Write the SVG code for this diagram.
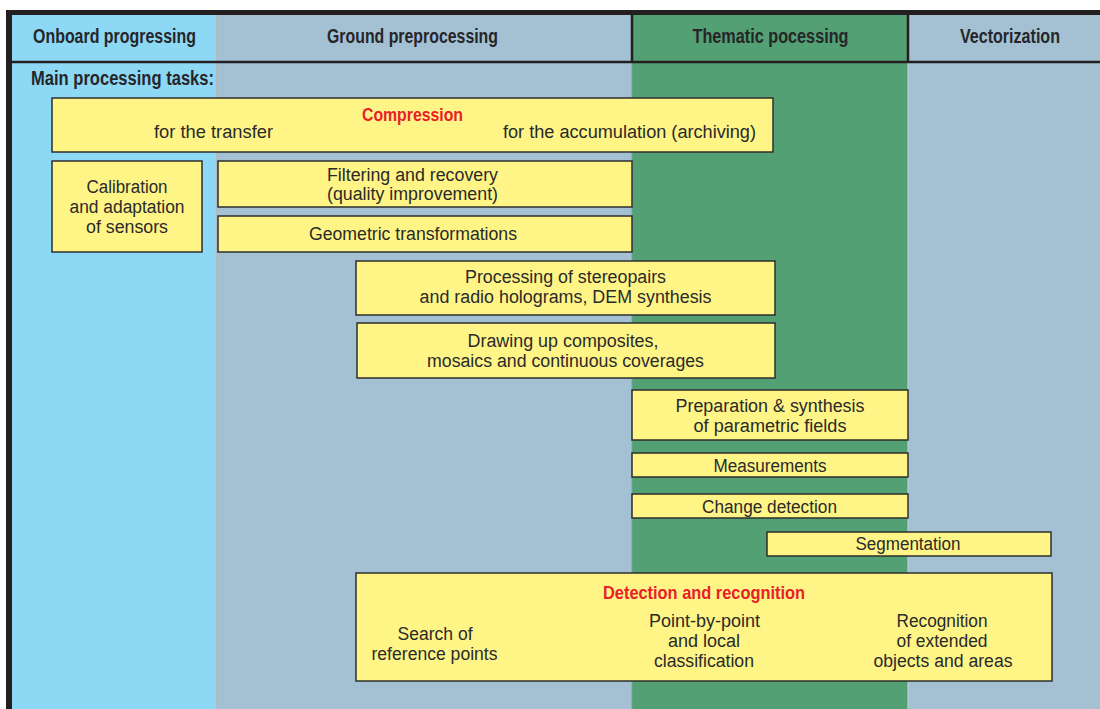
<svg xmlns="http://www.w3.org/2000/svg" width="1100" height="709" viewBox="0 0 1100 709">
  <style>
    .hd { font-family: "Liberation Sans", Arial, sans-serif; font-weight: bold; font-size: 20px; fill: #26262a; text-anchor: middle; }
    .tx { font-family: "Liberation Sans", Arial, sans-serif; font-size: 18.8px; fill: #2a2a2a; text-anchor: middle; }
    .rd { font-family: "Liberation Sans", Arial, sans-serif; font-weight: bold; font-size: 19px; fill: #e8202a; text-anchor: middle; }
    .box { fill: #fff587; stroke: #2e2e2e; stroke-width: 1.5; }
    .rule { stroke: #231f20; fill: none; }
  </style>

  <!-- column backgrounds -->
  <g id="columns">
    <rect x="0" y="0" width="1100" height="709" fill="#ffffff"/>
    <rect x="12" y="14" width="204.5" height="695" fill="#8dd8f5"/>
    <rect x="216.5" y="14" width="415.5" height="695" fill="#a3c1d3"/>
    <rect x="632" y="14" width="276" height="695" fill="#52a073"/>
    <rect x="908" y="14" width="192" height="695" fill="#a3c1d3"/>
    <line x1="216.5" y1="14" x2="216.5" y2="709" stroke="#b4b8bc" stroke-width="1.2"/>
    <line x1="632" y1="62" x2="632" y2="709" stroke="#6aa8a0" stroke-width="1"/>
    <line x1="908" y1="62" x2="908" y2="709" stroke="#c6d8d6" stroke-width="1"/>
  </g>

  <!-- frame and header rules -->
  <g id="frame">
    <line class="rule" x1="6" y1="12.5" x2="1100" y2="12.5" stroke-width="5"/>
    <line class="rule" x1="9" y1="10" x2="9" y2="709" stroke-width="6"/>
    <line class="rule" x1="12" y1="62" x2="1100" y2="62" stroke-width="2.5"/>
    <line class="rule" x1="632" y1="14" x2="632" y2="62" stroke-width="2.5"/>
    <line class="rule" x1="908" y1="14" x2="908" y2="62" stroke-width="2.5"/>
  </g>

  <!-- column headings -->
  <g id="headings">
    <text class="hd" x="114.5" y="43" textLength="163" lengthAdjust="spacingAndGlyphs">Onboard progressing</text>
    <text class="hd" x="412.5" y="43" textLength="171" lengthAdjust="spacingAndGlyphs">Ground preprocessing</text>
    <text class="hd" x="770.5" y="43" textLength="156" lengthAdjust="spacingAndGlyphs">Thematic pocessing</text>
    <text class="hd" x="1010" y="43" textLength="100" lengthAdjust="spacingAndGlyphs">Vectorization</text>
    <text class="hd" x="122.5" y="85" textLength="183" lengthAdjust="spacingAndGlyphs">Main processing tasks:</text>
  </g>

  <!-- task boxes -->
  <g id="compression">
    <rect class="box" x="52" y="98" width="721" height="54"/>
    <text class="rd" x="412.5" y="121" textLength="101" lengthAdjust="spacingAndGlyphs">Compression</text>
    <text class="tx" x="213.5" y="138" textLength="119" lengthAdjust="spacingAndGlyphs">for the transfer</text>
    <text class="tx" x="629.5" y="138" textLength="253" lengthAdjust="spacingAndGlyphs">for the accumulation (archiving)</text>
  </g>

  <g id="calibration">
    <rect class="box" x="52" y="161" width="150" height="91"/>
    <text class="tx" x="127" y="192.5" textLength="81" lengthAdjust="spacingAndGlyphs">Calibration</text>
    <text class="tx" x="127" y="212.5" textLength="115" lengthAdjust="spacingAndGlyphs">and adaptation</text>
    <text class="tx" x="127" y="232.5" textLength="82" lengthAdjust="spacingAndGlyphs">of sensors</text>
  </g>

  <g id="filtering">
    <rect class="box" x="218" y="161" width="414" height="46"/>
    <text class="tx" x="412.5" y="181" textLength="171" lengthAdjust="spacingAndGlyphs">Filtering and recovery</text>
    <text class="tx" x="412.5" y="200" textLength="171" lengthAdjust="spacingAndGlyphs">(quality improvement)</text>
  </g>

  <g id="geometric">
    <rect class="box" x="218" y="216" width="414" height="36"/>
    <text class="tx" x="413" y="240" textLength="208" lengthAdjust="spacingAndGlyphs">Geometric transformations</text>
  </g>

  <g id="stereopairs">
    <rect class="box" x="356" y="261" width="419" height="54"/>
    <text class="tx" x="565.5" y="283" textLength="201" lengthAdjust="spacingAndGlyphs">Processing of stereopairs</text>
    <text class="tx" x="565.5" y="303" textLength="292" lengthAdjust="spacingAndGlyphs">and radio holograms, DEM synthesis</text>
  </g>

  <g id="composites">
    <rect class="box" x="357" y="323" width="418" height="55"/>
    <text class="tx" x="563" y="347" textLength="191" lengthAdjust="spacingAndGlyphs">Drawing up composites,</text>
    <text class="tx" x="565.5" y="367" textLength="277" lengthAdjust="spacingAndGlyphs">mosaics and continuous coverages</text>
  </g>

  <g id="parametric">
    <rect class="box" x="632" y="390" width="276" height="50"/>
    <text class="tx" x="770" y="412" textLength="189" lengthAdjust="spacingAndGlyphs">Preparation &amp; synthesis</text>
    <text class="tx" x="770" y="432" textLength="153" lengthAdjust="spacingAndGlyphs">of parametric fields</text>
  </g>

  <g id="measurements">
    <rect class="box" x="632" y="453" width="276" height="24"/>
    <text class="tx" x="770" y="471.5" textLength="113" lengthAdjust="spacingAndGlyphs">Measurements</text>
  </g>

  <g id="change">
    <rect class="box" x="632" y="494" width="276" height="24"/>
    <text class="tx" x="769.5" y="512.5" textLength="135" lengthAdjust="spacingAndGlyphs">Change detection</text>
  </g>

  <g id="segmentation">
    <rect class="box" x="767" y="532" width="284" height="24"/>
    <text class="tx" x="908" y="549.5" textLength="105" lengthAdjust="spacingAndGlyphs">Segmentation</text>
  </g>

  <g id="detection">
    <rect class="box" x="356" y="573" width="696" height="108"/>
    <text class="rd" x="704" y="599" textLength="202" lengthAdjust="spacingAndGlyphs">Detection and recognition</text>
    <text class="tx" x="435" y="640" textLength="75" lengthAdjust="spacingAndGlyphs">Search of</text>
    <text class="tx" x="434.5" y="660" textLength="126" lengthAdjust="spacingAndGlyphs">reference points</text>
    <text class="tx" x="704.5" y="626.5" textLength="111" lengthAdjust="spacingAndGlyphs">Point-by-point</text>
    <text class="tx" x="704" y="646.5" textLength="72" lengthAdjust="spacingAndGlyphs">and local</text>
    <text class="tx" x="704" y="666.5" textLength="100" lengthAdjust="spacingAndGlyphs">classification</text>
    <text class="tx" x="942" y="626.5" textLength="91" lengthAdjust="spacingAndGlyphs">Recognition</text>
    <text class="tx" x="942" y="646.5" textLength="91" lengthAdjust="spacingAndGlyphs">of extended</text>
    <text class="tx" x="943" y="666.5" textLength="139" lengthAdjust="spacingAndGlyphs">objects and areas</text>
  </g>

  <!-- no connectors are drawn between the task boxes -->
  <g id="connectors"/>
</svg>
